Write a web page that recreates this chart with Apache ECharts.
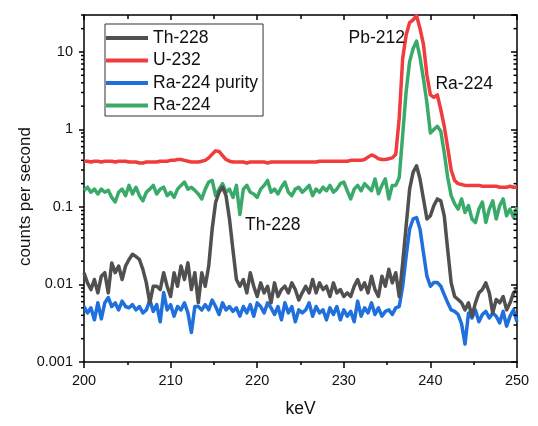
<!DOCTYPE html>
<html><head><meta charset="utf-8">
<script src="https://cdn.jsdelivr.net/npm/echarts@6/dist/echarts.min.js"></script>
<style>html,body{margin:0;padding:0;background:#fff}#c{width:538px;height:426px}</style>
</head><body><div id="c"></div>
<script>
const keV = [
200,200.4,200.8,201.2,201.6,202,202.4,202.8,203.2,203.6,
204,204.4,204.8,205.2,205.6,206,206.4,206.8,207.2,207.6,
208,208.4,208.8,209.2,209.6,210,210.4,210.8,211.2,211.6,
212,212.4,212.8,213.2,213.6,214,214.4,214.8,215.2,215.6,
216,216.4,216.8,217.2,217.6,218,218.4,218.8,219.2,219.6,
220,220.4,220.8,221.2,221.6,222,222.4,222.8,223.2,223.6,
224,224.4,224.8,225.2,225.6,226,226.4,226.8,227.2,227.6,
228,228.4,228.8,229.2,229.6,230,230.4,230.8,231.2,231.6,
232,232.4,232.8,233.2,233.6,234,234.4,234.8,235.2,235.6,
236,236.4,236.8,237.2,237.6,238,238.4,238.8,239.2,239.6,
240,240.4,240.8,241.2,241.6,242,242.4,242.8,243.2,243.6,
244,244.4,244.8,245.2,245.6,246,246.4,246.8,247.2,247.6,
248,248.4,248.8,249.2,249.6,250];

const th228 = [
0.0142,0.0105,0.0086,0.0116,0.0078,0.0128,0.0142,0.0078,0.019,0.0142,
0.0173,0.0116,0.0173,0.021,0.0245,0.023,0.021,0.0157,0.0105,0.0058,
0.0095,0.0095,0.0086,0.0142,0.0095,0.007,0.0142,0.0095,0.0173,0.0116,
0.019,0.0086,0.0142,0.0058,0.0142,0.0095,0.0173,0.052,0.115,0.155,
0.18,0.14,0.07,0.028,0.0116,0.0095,0.0116,0.0078,0.0142,0.0095,
0.007,0.0105,0.0078,0.0095,0.0058,0.0105,0.007,0.0086,0.0095,0.0078,
0.0105,0.0086,0.0063,0.0078,0.0095,0.0078,0.0116,0.0078,0.0105,0.0086,
0.0095,0.007,0.0105,0.0078,0.0086,0.007,0.0078,0.007,0.0095,0.0116,
0.0086,0.0105,0.0078,0.0128,0.0086,0.007,0.0128,0.0095,0.0157,0.0105,
0.0142,0.007,0.019,0.057,0.17,0.28,0.34,0.23,0.127,0.07,
0.077,0.104,0.127,0.12,0.077,0.028,0.0105,0.007,0.0064,0.0058,
0.0047,0.0058,0.0039,0.0058,0.0078,0.0086,0.0105,0.0078,0.0043,0.0064,
0.0058,0.007,0.0047,0.0058,0.0078,0.0086];

const u232 = [
0.39,0.39,0.38,0.39,0.39,0.38,0.39,0.39,0.39,0.38,
0.39,0.39,0.39,0.38,0.38,0.38,0.37,0.37,0.38,0.38,
0.38,0.38,0.39,0.39,0.39,0.4,0.4,0.41,0.41,0.4,
0.39,0.38,0.38,0.38,0.39,0.4,0.43,0.48,0.53,0.52,
0.46,0.41,0.39,0.38,0.38,0.38,0.38,0.37,0.38,0.38,
0.38,0.38,0.38,0.37,0.38,0.38,0.38,0.38,0.38,0.38,
0.38,0.38,0.38,0.38,0.38,0.38,0.38,0.38,0.39,0.39,
0.39,0.39,0.39,0.39,0.39,0.39,0.39,0.4,0.4,0.4,
0.4,0.41,0.44,0.47,0.45,0.42,0.41,0.41,0.42,0.43,
0.48,1.4,8.3,16.6,24,26,29.5,20,12.5,5,
2.8,2.6,2.8,1.8,1.1,0.58,0.3,0.22,0.2,0.195,
0.19,0.19,0.19,0.19,0.19,0.185,0.185,0.185,0.185,0.185,
0.18,0.18,0.18,0.185,0.18,0.18];

const ra224purity = [
0.0052,0.0043,0.005,0.0035,0.0058,0.0036,0.0058,0.0068,0.0052,0.0058,
0.0047,0.0061,0.0052,0.005,0.0055,0.0047,0.0052,0.0043,0.0047,0.0063,
0.0045,0.0055,0.0033,0.0079,0.0047,0.0055,0.0039,0.0052,0.0047,0.0058,
0.0043,0.0024,0.0052,0.0052,0.0047,0.0055,0.0047,0.0063,0.0052,0.0041,
0.0058,0.0047,0.0052,0.0045,0.005,0.0039,0.0052,0.0043,0.0055,0.0039,
0.0058,0.0052,0.0043,0.0058,0.005,0.0041,0.0052,0.0035,0.0058,0.0043,
0.0052,0.0033,0.0047,0.0043,0.0047,0.0058,0.0039,0.0052,0.0043,0.0047,
0.0035,0.005,0.0041,0.0052,0.0035,0.0047,0.0039,0.0045,0.0033,0.0061,
0.0039,0.005,0.0043,0.0058,0.0041,0.005,0.0039,0.0045,0.0047,0.0041,
0.005,0.0052,0.0095,0.0233,0.052,0.07,0.073,0.052,0.0257,0.0128,
0.0095,0.0106,0.0106,0.0095,0.0074,0.0058,0.0047,0.0045,0.0041,0.0031,
0.0017,0.0043,0.0037,0.0047,0.0033,0.0041,0.0045,0.0037,0.0043,0.0039,
0.0032,0.0045,0.0029,0.0039,0.0047,0.0033];

const ra224 = [
0.164,0.18,0.155,0.17,0.147,0.17,0.155,0.164,0.133,0.116,
0.155,0.17,0.14,0.19,0.147,0.18,0.14,0.12,0.155,0.17,
0.19,0.147,0.17,0.18,0.14,0.155,0.133,0.17,0.19,0.21,
0.17,0.18,0.164,0.147,0.127,0.17,0.21,0.22,0.14,0.17,
0.2,0.155,0.17,0.133,0.19,0.08,0.17,0.19,0.155,0.147,
0.133,0.17,0.19,0.22,0.155,0.17,0.147,0.18,0.21,0.155,
0.14,0.17,0.18,0.155,0.17,0.19,0.14,0.17,0.155,0.18,
0.162,0.19,0.155,0.17,0.2,0.21,0.162,0.127,0.17,0.19,
0.162,0.2,0.18,0.162,0.23,0.148,0.19,0.23,0.127,0.19,
0.19,0.24,0.85,3.1,7.5,11,13.8,8.5,4.5,2.2,
0.9,1.0,1.1,0.95,0.5,0.24,0.14,0.11,0.094,0.127,
0.085,0.104,0.07,0.063,0.094,0.116,0.063,0.094,0.12,0.07,
0.104,0.127,0.077,0.094,0.073,0.1];

const seriesNames = ['Th-228','U-232','Ra-224 purity','Ra-224'];
const seriesColors = ['#505050','#f03c3c','#1f6fdc','#3aaa6a'];
const annoText = ['Pb-212','Ra-224','Th-228'];
const annoX = [233.8, 243.9, 221.8];
const annoY = [15.0, 3.9, 0.058];
const yMin = 0.001, yMax = 30;

// log minor tick positions (axis decoration)
const minorVals = [];
for (let e = -3; e <= 1; e++) for (let m = 2; m <= 9; m++) { const v = m * Math.pow(10, e); if (v <= yMax) minorVals.push(+v.toPrecision(2)); }

const FONT = 'Liberation Sans, Arial, sans-serif';
const TXT = '#111';
const pair = arr => keV.map((x, i) => [x, arr[i]]);

function lineSeries(name, arr, color) {
  return { name, type: 'line', data: pair(arr), showSymbol: false, symbol: 'none',
    lineStyle: { color, width: 3.5, join: 'round' }, itemStyle: { color }, z: 3, silent: true };
}
const logFmt = v => { const l = Math.log10(v); const e = Math.round(l); if (Math.abs(l - e) > 1e-6) return ''; return e < 0 ? Math.pow(10, e).toFixed(-e) : String(Math.pow(10, e)); };
const axisLine = { show: true, onZero: false, lineStyle: { color: '#000', width: 1.5 } };

const option = {
  animation: false,
  grid: { left: 84, right: 21, top: 15, bottom: 64 },
  legend: {
    data: seriesNames, orient: 'vertical', left: 105, top: 24, icon: 'rect',
    itemWidth: 42, itemHeight: 4, itemGap: 4.5, padding: [5, 5, 1.5, 1],
    borderColor: '#333', borderWidth: 1, borderRadius: 0,
    textStyle: { fontSize: 17.5, lineHeight: 18, color: TXT, fontFamily: FONT }
  },
  xAxis: [
    { type: 'value', min: 200, max: 250, interval: 10, position: 'bottom',
      axisLine, splitLine: { show: false },
      axisTick: { show: true, inside: false, length: 6, lineStyle: { color: '#000', width: 1.5 } },
      minorTick: { show: true, splitNumber: 2, length: 3, lineStyle: { color: '#000', width: 1.5 } },
      axisLabel: { fontSize: 14.5, color: TXT, fontFamily: FONT, margin: 11 },
      name: 'keV', nameLocation: 'middle', nameGap: 38, nameMoveOverlap: false,
      nameTextStyle: { fontSize: 17.5, color: TXT, fontFamily: FONT } },
    { type: 'value', min: 200, max: 250, interval: 10, position: 'top',
      axisLine, splitLine: { show: false },
      axisTick: { show: true, inside: true, length: 5, lineStyle: { color: '#000', width: 1.5 } },
      minorTick: { show: true, splitNumber: 2, length: 4, lineStyle: { color: '#000', width: 1.5 } },
      axisLabel: { show: false } }
  ],
  yAxis: [
    { type: 'log', logBase: 10, min: yMin, max: yMax, position: 'left',
      axisLine, splitLine: { show: false },
      axisTick: { show: true, inside: false, length: 5, lineStyle: { color: '#000', width: 1.5 } },
      axisLabel: { fontSize: 14.5, color: TXT, fontFamily: FONT, margin: 11, formatter: logFmt, showMaxLabel: false },
      name: 'counts per second', nameLocation: 'middle', nameGap: 50, nameRotate: 90, nameMoveOverlap: false,
      nameTextStyle: { fontSize: 17, color: TXT, fontFamily: FONT, padding: [0, 16, 0, 0] } },
    { type: 'log', logBase: 10, min: yMin, max: yMax, position: 'right',
      axisLine, splitLine: { show: false },
      axisTick: { show: true, inside: true, length: 6, lineStyle: { color: '#000', width: 1.5 } },
      axisLabel: { show: false } }
  ],
  series: [
    lineSeries(seriesNames[3], ra224, seriesColors[3]),
    lineSeries(seriesNames[2], ra224purity, seriesColors[2]),
    lineSeries(seriesNames[1], u232, seriesColors[1]),
    lineSeries(seriesNames[0], th228, seriesColors[0]),
    { type: 'custom', name: 'minor', silent: true, clip: false, z: 5,
      data: minorVals.map(v => [200, v]),
      renderItem: (params, api) => {
        const v = api.value(1);
        const l = api.coord([200, v]);
        const r = api.coord([250, v]);
        const st = { stroke: '#000', lineWidth: 1.5 };
        return { type: 'group', children: [
          { type: 'line', shape: { x1: l[0] - 3, y1: l[1], x2: l[0], y2: l[1] }, style: st },
          { type: 'line', shape: { x1: r[0] - 3.5, y1: r[1], x2: r[0], y2: r[1] }, style: st }
        ] };
      } },
    { type: 'custom', name: 'annot', silent: true, clip: false, z: 6,
      data: annoText.map((t, i) => [annoX[i], annoY[i], i]),
      renderItem: (params, api) => {
        const p = api.coord([api.value(0), api.value(1)]);
        return { type: 'text', x: p[0], y: p[1],
          style: { text: annoText[api.value(2)], fill: TXT, font: '17.5px ' + FONT, align: 'center', verticalAlign: 'middle' } };
      } }
  ]
};
const chart = echarts.init(document.getElementById('c'), null, { renderer: 'canvas' });
chart.setOption(option);
</script></body></html>
